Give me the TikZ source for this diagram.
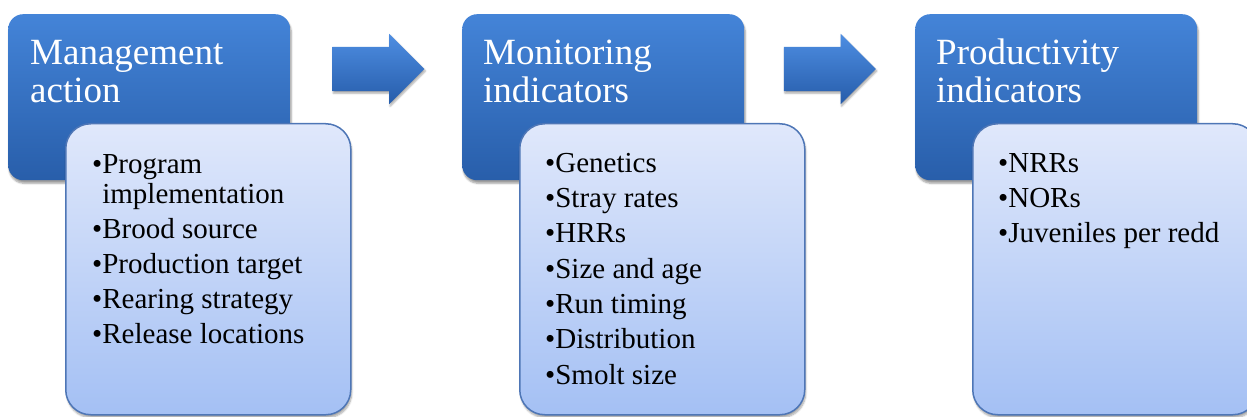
\documentclass[tikz,border=0pt]{standalone}
\usepackage{fontspec}
\setmainfont{Liberation Serif}
\usetikzlibrary{positioning,calc,shapes.arrows,shadows.blur}

\definecolor{headtop}{RGB}{68,132,216}
\definecolor{headbot}{RGB}{40,94,170}
\definecolor{listtop}{RGB}{224,232,251}
\definecolor{listbot}{RGB}{164,192,244}
\definecolor{listedge}{RGB}{78,118,182}
\definecolor{arrtop}{RGB}{78,142,226}
\definecolor{arrbot}{RGB}{38,92,170}

\tikzset{
	headbox/.style={rectangle,rounded corners=15pt,inner sep=0pt,
		minimum width=282pt,minimum height=166pt,
		top color=headtop,bottom color=headbot,
		blur shadow={shadow blur steps=6,shadow xshift=1pt,shadow yshift=-3pt,shadow opacity=40}},
	listbox/.style={rectangle,rounded corners=25pt,inner sep=0pt,
		minimum width=285pt,minimum height=291pt,
		top color=listtop,bottom color=listbot,draw=listedge,line width=1.5pt,
		blur shadow={shadow blur steps=6,shadow xshift=1pt,shadow yshift=-3pt,shadow opacity=35}},
	% base anchor of a multi-line node sits on its last line
	headtext/.style={text=white,align=left,inner sep=0pt,anchor=base west,
		font=\fontsize{37}{38}\selectfont},
	listtext/.style={text=black,align=left,inner sep=0pt,anchor=base west,
		font=\fontsize{29}{30}\selectfont},
	flowarrow/.style={single arrow,single arrow head extend=13pt,
		inner xsep=0pt,inner ysep=22pt,minimum height=92pt,
		top color=arrtop,bottom color=arrbot,
		blur shadow={shadow blur steps=5,shadow xshift=1pt,shadow yshift=-2pt,shadow opacity=35}},
}

\begin{document}
\begin{tikzpicture}[x=1pt,y=-1pt]
		\useasboundingbox (0,0) rectangle (1247,417);
		% title boxes
		\node[headbox,anchor=north west] (mgmt) at (8,14) {};
		\node[headbox,anchor=north west] (monit) at (462,14) {};
		\node[headbox,anchor=north west] (prod) at (915,14) {};
		% list boxes
		\node[listbox,anchor=north west] (mgmtlist) at ([shift={(57,109)}]mgmt.north west) {};
		\node[listbox,anchor=north west] (monitlist) at ([shift={(57,109)}]monit.north west) {};
		\node[listbox,anchor=north west] (prodlist) at ([shift={(57,109)}]prod.north west) {};
		% arrows
		\node[flowarrow] (arrA) at ($(mgmt.north east)!0.5!(monit.north west)+(-9,55)$) {};
		\node[flowarrow] (arrB) at ($(monit.north east)!0.5!(prod.north west)+(-11,55)$) {};
		% titles
		\node[headtext] (mgmttitle) at ([shift={(22,89)}]mgmt.north west) {Management\\action};
		\node[headtext] (monittitle) at ([shift={(21,89)}]monit.north west) {Monitoring\\indicators};
		\node[headtext] (prodtitle) at ([shift={(21,89)}]prod.north west) {Productivity\\indicators};
		% lists
		\node[listtext] (mgmtitems) at ([shift={(27,220)}]mgmtlist.north west)
			{•Program\\\hphantom{•}implementation\\[5pt]•Brood source\\[5pt]•Production target\\[5pt]•Rearing strategy\\[5pt]•Release locations};
		\node[listtext] (monititems) at ([shift={(26,261)}]monitlist.north west)
			{•Genetics\\[5.3pt]•Stray rates\\[5.3pt]•HRRs\\[5.3pt]•Size and age\\[5.3pt]•Run timing\\[5.3pt]•Distribution\\[5.3pt]•Smolt size};
		\node[listtext] (proditems) at ([shift={(26,119)}]prodlist.north west)
			{•NRRs\\[5pt]•NORs\\[5pt]•Juveniles per redd};
	\end{tikzpicture}
\end{document}
